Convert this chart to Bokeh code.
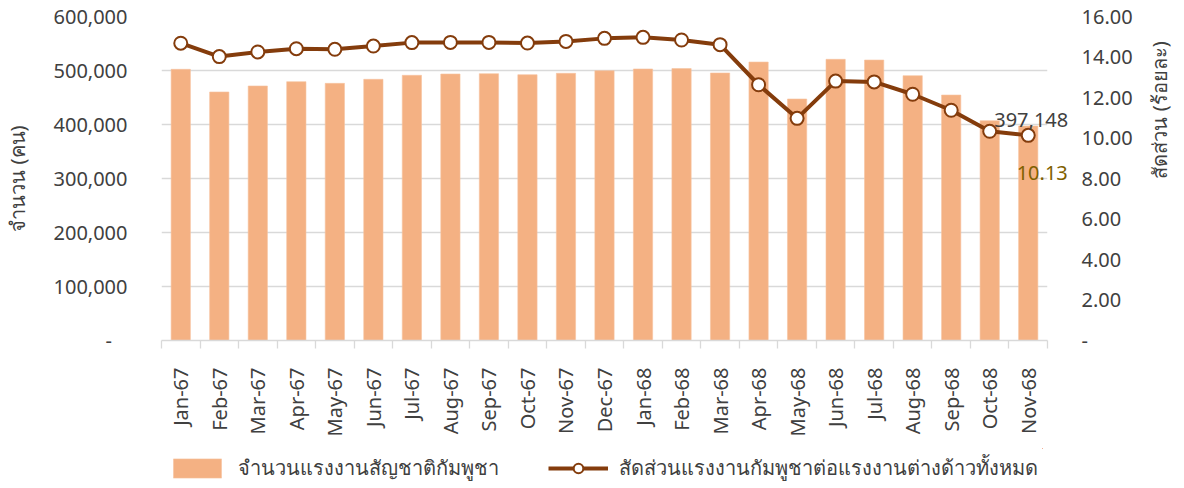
import math
from bokeh.plotting import figure
from bokeh.layouts import column
from bokeh.models import (Range1d, LinearAxis, FixedTicker, CustomJSTickFormatter,
                          Legend, LegendItem, ColumnDataSource)
from bokeh.embed import file_html
from bokeh.resources import INLINE
from bokeh.core.properties import value

months = ["Jan-67", "Feb-67", "Mar-67", "Apr-67", "May-67", "Jun-67", "Jul-67", "Aug-67",
          "Sep-67", "Oct-67", "Nov-67", "Dec-67", "Jan-68", "Feb-68", "Mar-68", "Apr-68",
          "May-68", "Jun-68", "Jul-68", "Aug-68", "Sep-68", "Oct-68", "Nov-68"]
workers = [502200, 460200, 471300, 479300, 476200, 483700, 491100, 493500, 494100, 492200,
           494800, 499600, 502800, 503500, 495400, 515700, 447200, 520700, 519400, 490400,
           454600, 407000, 397148]
share = [14.68, 14.02, 14.25, 14.41, 14.38, 14.54, 14.71, 14.72, 14.72, 14.69, 14.77, 14.92,
         14.97, 14.84, 14.61, 12.63, 10.97, 12.81, 12.77, 12.16, 11.37, 10.33, 10.13]
left_ticks = [0, 100000, 200000, 300000, 400000, 500000, 600000]
right_ticks = [0, 2, 4, 6, 8, 10, 12, 14, 16]
bar_label = "จำนวนแรงงานสัญชาติกัมพูชา"
line_label = "สัดส่วนแรงงานกัมพูชาต่อแรงงานต่างด้าวทั้งหมด"
left_title = "จำนวน (คน)"
right_title = "สัดส่วน (ร้อยละ)"

FONT = "Noto Sans"
TXT = "#404040"
GRID = "#D9D9D9"
BAR = "#F4B183"
LINE = "#843C0C"

xs = [i + 0.5 for i in range(len(months))]
src = ColumnDataSource(dict(x=xs, month=months, workers=workers, share=share))

p = figure(frame_width=886, frame_height=324, x_range=Range1d(0, len(months)),
           y_range=Range1d(left_ticks[0], left_ticks[-1]),
           output_backend="svg", toolbar_location=None,
           min_border_left=160, min_border_right=138, min_border_top=16, min_border_bottom=108)
p.extra_y_ranges = {"right": Range1d(right_ticks[0], right_ticks[-1])}
p.outline_line_color = None
p.background_fill_color = "white"
p.border_fill_color = "white"

p.xgrid.visible = False
p.ygrid.ticker = FixedTicker(ticks=left_ticks)
p.ygrid.grid_line_color = GRID
p.ygrid.grid_line_width = 1.3

def draw_series(fig):
    b = fig.vbar(x="x", top="workers", width=0.5, source=src,
                 fill_color=BAR, line_color="#F6C3A0", line_width=0.6)
    l = fig.line(x="x", y="share", source=src, y_range_name="right",
                 line_width=4, line_color=LINE)
    s = fig.scatter(x="x", y="share", source=src, y_range_name="right", size=13,
                    fill_color="white", line_color=LINE, line_width=2)
    return b, l, s

draw_series(p)

# x axis
xa = p.xaxis[0]
xa.ticker = FixedTicker(ticks=xs, minor_ticks=list(range(len(months) + 1)))
xa.formatter = CustomJSTickFormatter(args=dict(labels=months),
                                     code="return labels[Math.round(tick - 0.5)] || '';")
xa.major_label_orientation = math.pi / 2
xa.major_tick_out = 0
xa.major_tick_in = 0
xa.major_tick_line_color = None
xa.minor_tick_out = 8
xa.minor_tick_in = 0
xa.minor_tick_line_color = GRID
xa.minor_tick_line_width = 1.3
xa.axis_line_color = GRID
xa.axis_line_width = 1.3
xa.major_label_standoff = 19
xa.major_label_text_font = FONT
xa.major_label_text_font_size = "20px"
xa.major_label_text_color = TXT

# left axis
ya = p.yaxis[0]
ya.ticker = FixedTicker(ticks=left_ticks)
ya.formatter = CustomJSTickFormatter(code="""
if (tick == 0) return '-\u00a0\u00a0\u00a0';
return Math.round(tick).toString().replace(/\\B(?=(\\d{3})+(?!\\d))/g, ',');
""")
ya.axis_line_color = None
ya.major_tick_line_color = None
ya.minor_tick_line_color = None
ya.major_tick_out = 0
ya.major_tick_in = 0
ya.major_label_standoff = 34
ya.major_label_text_font = FONT
ya.major_label_text_font_size = "20px"
ya.major_label_text_color = TXT
ya.axis_label = left_title
ya.axis_label_standoff = 20
ya.axis_label_text_font = FONT
ya.axis_label_text_font_size = "20px"
ya.axis_label_text_font_style = "normal"
ya.axis_label_text_color = TXT

# right axis
ra = LinearAxis(y_range_name="right", ticker=FixedTicker(ticks=right_ticks))
ra.formatter = CustomJSTickFormatter(code="return tick == 0 ? '-' : tick.toFixed(2);")
ra.axis_line_color = None
ra.major_tick_line_color = None
ra.minor_tick_line_color = None
ra.major_tick_out = 0
ra.major_tick_in = 0
ra.major_label_standoff = 34
ra.major_label_text_font = FONT
ra.major_label_text_font_size = "20px"
ra.major_label_text_color = TXT
ra.axis_label = right_title
ra.axis_label_standoff = 24
ra.axis_label_text_font = FONT
ra.axis_label_text_font_size = "20px"
ra.axis_label_text_font_style = "normal"
ra.axis_label_text_color = TXT
if "axis_label_orientation" in LinearAxis.properties():
    ra.axis_label_orientation = math.pi / 2
p.add_layout(ra, "right")

# data labels on last point
last = len(months) - 1
p.text(x=[xs[last]], y=[workers[last]], text=[f"{workers[last]:,}"],
       text_align="center", text_baseline="alphabetic", x_offset=3, y_offset=-6,
       text_font=value(FONT), text_font_size="20px", text_color=TXT, level="overlay")
p.text(x=[xs[last]], y=[share[last]], text=[f"{share[last]:.2f}"], y_range_name="right",
       text_align="center", text_baseline="alphabetic", x_offset=14, y_offset=38,
       text_font=value(FONT), text_font_size="20px", text_color="#7F6000", level="overlay")

# legend strip (separate figure; its series renderers lie outside its view)
lf = figure(width=1184, height=40, x_range=Range1d(-20, -19), y_range=Range1d(-20, -19),
            x_axis_type=None, y_axis_type=None, output_backend="svg", toolbar_location=None,
            min_border_left=160, min_border_right=0, min_border_top=0, min_border_bottom=0)
lf.extra_y_ranges = {"right": Range1d(-20, -19)}
lf.outline_line_color = None
lf.xgrid.visible = False
lf.ygrid.visible = False
lb, ll, ls = draw_series(lf)
lg = Legend(items=[LegendItem(label=bar_label, renderers=[lb]),
                   LegendItem(label=line_label, renderers=[ll, ls])],
            location="left", orientation="horizontal",
            border_line_color=None, background_fill_alpha=0, padding=0, margin=6,
            spacing=49, label_standoff=11, glyph_width=60, glyph_height=24,
            label_text_font=FONT, label_text_font_size="20px", label_text_color=TXT)
lf.add_layout(lg, "center")

layout = column(p, lf, spacing=0)
open("out.html", "w").write(file_html(layout, INLINE))
